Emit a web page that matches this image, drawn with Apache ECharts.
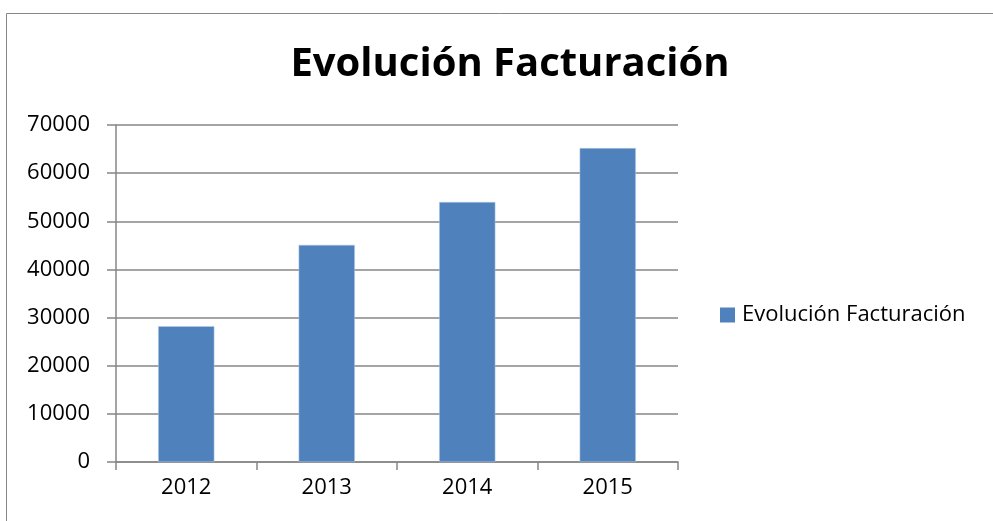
<!DOCTYPE html>
<html>
<head>
<meta charset="UTF-8">
<title>Evolución Facturación</title>
<script src="https://cdn.jsdelivr.net/npm/echarts@6/dist/echarts.min.js"></script>
</head>
<body style="margin:0;padding:0;background:#fff;">
<div id="chart" style="width:993px;height:521px;"></div>
<script>
// datos
var years = ['2012', '2013', '2014', '2015'];
var facturacion = [28200, 45100, 54000, 65200];
var seriesName = 'Evolución Facturación';

var myChart = echarts.init(document.getElementById('chart'));
var axisGray = '#868686';
var font = '"Open Sans", "Noto Sans", sans-serif';

var option = {
	animation: false,
	backgroundColor: '#fff',
	title: {
		text: 'Evolución Facturación',
		left: 505,
		textAlign: 'center',
		top: 40,
		textStyle: { fontFamily: font, fontSize: 40, fontWeight: 'bold', color: '#000' }
	},
	// marco del gráfico
	graphic: [{
		type: 'rect',
		shape: { x: 6.5, y: 13.5, width: 1000, height: 600 },
		style: { fill: 'none', stroke: axisGray, lineWidth: 1 },
		silent: true
	}],
	legend: {
		left: 720,
		top: 304,
		padding: 0,
		itemWidth: 15,
		itemHeight: 15,
		itemGap: 8,
		icon: 'rect',
		itemStyle: { borderWidth: 0 },
		textStyle: { fontFamily: font, fontSize: 22, color: '#000', padding: [0, 0, 0, 2] },
		data: [seriesName]
	},
	grid: { left: 116, right: 315, top: 125, bottom: 59 },
	xAxis: {
		type: 'category',
		data: years,
		axisLine: { lineStyle: { color: axisGray, width: 1.5 } },
		axisTick: { show: true, length: 8, lineStyle: { color: axisGray, width: 1.5 } },
		axisLabel: { fontFamily: font, fontSize: 22, color: '#000', margin: 15 }
	},
	yAxis: {
		type: 'value',
		min: 0,
		max: 70000,
		interval: 10000,
		axisLine: { show: true, lineStyle: { color: axisGray, width: 1.5 } },
		axisTick: { show: true, length: 9, lineStyle: { color: axisGray, width: 1.5 } },
		splitLine: { lineStyle: { color: axisGray, width: 1.5 } },
		axisLabel: {
			fontFamily: font, fontSize: 22, color: '#000', margin: 26,
			formatter: function (v) { return String(v); }
		}
	},
	series: [{
		name: seriesName,
		type: 'bar',
		data: facturacion,
		barWidth: '40%',
		itemStyle: { color: '#4f81bd', borderColor: '#b9cde5', borderWidth: 0.5 }
	}]
};

myChart.setOption(option);
</script>
</body>
</html>
